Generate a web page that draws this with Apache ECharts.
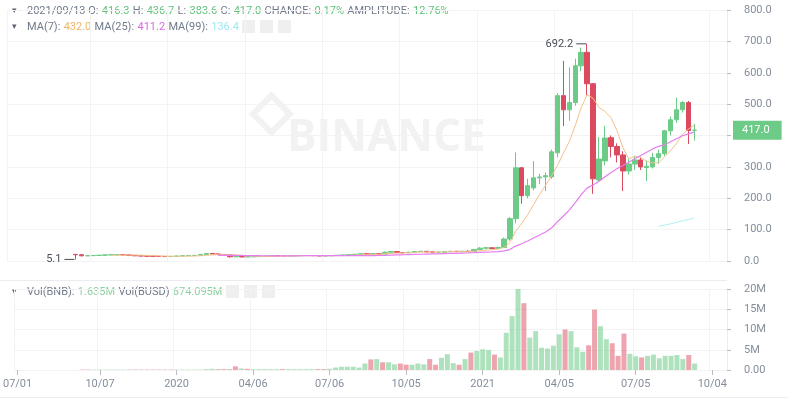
<!DOCTYPE html>
<html>
<head>
<meta charset="utf-8">
<script src="https://cdn.jsdelivr.net/npm/echarts@6/dist/echarts.min.js"></script>
<style>
  html, body { margin: 0; padding: 0; background: #fff; }
  #main { width: 788px; height: 401px; }
</style>
</head>
<body>
<div id="main"></div>
<script>
// weekly candles BNB/BUSD, 2019-09-16 .. 2021-09-13
const opens = [
  21, 20, 16.5, 17, 17.5, 18.5, 19.5, 20, 20, 19.5, 18, 16.5, 16, 15.5, 15, 14.5,
  14, 14.5, 16, 17, 17.5, 18, 20.5, 24, 22.5, 21, 20, 13.5, 14, 13, 13.5, 14, 15, 15.5, 16.5, 16, 16.5, 17, 17, 17.5, 17.5, 17, 16, 16.5, 17.5, 18.5, 19, 20, 21.5, 23, 22, 23.5, 22, 28, 30, 27, 26, 28, 30, 31, 29, 28, 28, 30, 31, 30, 31, 30,
  37,
  41, 42, 40, 43, 70, 135, 297, 208, 233, 265, 268, 268, 345, 527, 482, 505, 622, 665, 565, 258, 319, 393, 365, 338, 287, 309, 322, 298, 300, 330, 342, 415, 450, 482, 505, 416.3
]
const closes = [
  20, 16.5, 17, 17.5, 18.5, 19.5, 20, 20, 19.5, 18, 16.5, 16, 15.5, 15, 14.5, 14,
  14.5, 16, 17, 17.5, 18, 20.5, 24, 22.5, 21, 20, 13.5, 14, 13, 13.5, 14, 15, 15.5, 16.5, 16, 16.5, 17, 17, 17.5, 17.5, 17, 16, 16.5, 17.5, 18.5, 19, 20, 21.5, 23, 22, 23.5, 22, 28, 30, 27, 26, 28, 30, 31, 29, 28, 28, 30, 31, 30, 31, 30, 37,
  41,
  42, 40, 43, 70, 135, 297, 208, 240, 265, 268, 272, 348, 527, 482, 505, 622, 665, 565, 262, 325, 392, 365, 338, 287, 309, 322, 300, 302, 330, 342, 415, 450, 482, 505, 416, 417.0
]
const highs = [
  22, 21, 18, 18, 19, 20, 21, 21, 21, 20, 18.5, 17, 16.5, 16, 15.5, 15,
  15, 16.5, 17.5, 18, 18.5, 21, 25, 24.5, 23, 21.5, 20.5, 15, 14.5, 14, 14.5, 15.5, 16, 17, 17, 17, 17.5, 17.5, 18, 18, 18, 17.5, 17, 18, 19, 19.5, 20.5, 22, 24, 23.5, 24.5, 24, 30, 32, 30.5, 28, 29, 31, 32, 31.5, 30, 29, 31, 32, 31.5, 32, 34, 38,
  44,
  45, 44, 46, 75, 140, 346, 300, 262, 318, 278, 282, 355, 535, 638, 617, 645, 680, 692.2, 567, 395, 431, 400, 375, 350, 325, 335, 330, 320, 345, 355, 418, 460, 521, 510, 510, 436.7
]
const lows = [
  5.1, 15, 15.5, 16, 17, 18, 19, 19, 19, 17.5, 16, 15.5, 15, 14.5, 14, 13.5,
  13.5, 14, 15.5, 16.5, 17, 17.5, 20, 21.5, 20.5, 19.5, 11, 12.5, 12, 12.5, 13, 13.5, 14.5, 15, 15.5, 15.5, 16, 16.5, 16.5, 17, 16.5, 15.5, 15.5, 16, 17, 18, 18.5, 19.5, 21, 21, 21.5, 21, 21.5, 26.5, 25.5, 25, 25.5, 27.5, 29, 27.5, 27, 27, 27.5, 29, 29, 29.5, 29.5, 29.5,
  35,
  37, 38, 38, 41, 65, 120, 183, 200, 225, 245, 223, 262, 330, 430, 447, 495, 605, 527, 214, 252, 305, 330, 314, 223, 275, 290, 290, 255, 295, 310, 335, 400, 440, 473, 373, 383.6
]
// volume in millions BNB
const volumes = [
  0.1, 0.1, 0.1, 0.1, 0.1, 0.1, 0.1, 0.1, 0.1, 0.1, 0.1, 0.1, 0.1, 0.1, 0.1, 0.1,
  0.1, 0.1, 0.1, 0.1, 0.1, 0.2, 0.3, 0.2, 0.2, 0.2, 0.9, 0.4, 0.3, 0.2, 0.2, 0.2, 0.2, 0.2, 0.2, 0.2, 0.2, 0.2, 0.2, 0.2, 0.2, 0.2, 0.3, 0.6, 0.8, 0.8, 0.8, 0.6, 1.6, 2.6, 2.7, 1.9, 1.9, 1.4, 1.6, 1.3, 1.3, 1.6, 1.4, 2.7, 1.3, 3.0, 3.9, 1.7, 1.3, 2.7, 4.3,
  4.7,
  5.1, 4.9, 3.8, 3.1, 9.2, 13.3, 20, 16.5, 8, 9.6, 5.5, 5.3, 6, 8.8, 10, 9.6, 5.6, 4.5, 6.1, 14.9, 10.8, 7.6, 6.6, 3.5, 9, 4, 3.4, 3.1, 3.5, 3.8, 2.9, 3.5, 3.5, 3.7, 2.7, 3.7, 1.6
]
const labelDates = ['2019-07-01', '2019-10-07', '2020-01-06', '2020-04-06', '2020-07-06', '2020-10-05', '2021-01-04', '2021-04-05', '2021-07-05', '2021-10-04']
const lastPrice = 417.0

const UP = '#6ccb86'
const DOWN = '#dc4a60'

// weekly categories from 2019-07-01 to 2021-10-18
const categories = []
for (let t = Date.UTC(2019, 6, 1); t <= Date.UTC(2021, 9, 18); t += 7 * 864e5) {
  categories.push(new Date(t).toISOString().slice(0, 10))
}
const offset = categories.indexOf('2019-09-16')

const candles = categories.map((d, i) => {
  const k = i - offset
  if (k < 0 || k >= closes.length) return '-'
  return [opens[k], closes[k], lows[k], highs[k]]
})
const volBars = categories.map((d, i) => {
  const k = i - offset
  if (k < 0 || k >= volumes.length) return '-'
  return {
    value: volumes[k] * 1e6,
    itemStyle: { color: closes[k] >= opens[k] ? 'rgba(108,203,134,0.55)' : 'rgba(220,74,96,0.5)' }
  }
})
const ma = (n) => categories.map((d, i) => {
  const k = i - offset
  if (k < n - 1 || k >= closes.length) return '-'
  let s = 0
  for (let j = k - n + 1; j <= k; j++) s += closes[j]
  return +(s / n).toFixed(2)
})

const fmtLabel = (v) => {
  if (v === '2020-01-06') return '2020'
  if (v === '2021-01-04') return '2021'
  return v.slice(5, 7) + '/' + v.slice(8, 10)
}
const showLabel = (i, v) => labelDates.indexOf(v) >= 0

const gray = '#707a8a'
const axisColor = '#848e9c'
const splitColor = '#f3f3f3'
const F = 'Roboto, sans-serif'
const legendRich = {
  a: { fill: '#5e6673', fontSize: 9, fontFamily: F },
  g: { fill: gray, fontSize: 11, fontFamily: F },
  v: { fill: '#5fc27a', fontSize: 11, fontFamily: F },
  o: { fill: '#f0b662', fontSize: 11, fontFamily: F },
  p: { fill: '#d86be0', fontSize: 11, fontFamily: F },
  c: { fill: '#9eeaf0', fontSize: 11, fontFamily: F },
  b: { fill: '#8fd0a0', fontSize: 11, fontFamily: F }
}
// small grey icon boxes behind the legends
const iconBox = (x, y) => ({
  type: 'rect', left: x, top: y, shape: { width: 13, height: 13 }, style: { fill: '#efefef' }
})

const chart = echarts.init(document.getElementById('main'))
chart.setOption({
  animation: false,
  backgroundColor: '#fff',
  textStyle: { fontFamily: F },
  grid: [
    { left: 7, right: 61, top: 10, height: 251 },
    { left: 7, right: 61, top: 289, height: 81 }
  ],
  xAxis: [
    {
      type: 'category', gridIndex: 0, data: categories, boundaryGap: true,
      axisLine: { show: false }, axisTick: { show: false }, axisLabel: { show: false },
      splitLine: { show: true, interval: showLabel, lineStyle: { color: splitColor } }
    },
    {
      type: 'category', gridIndex: 1, data: categories, boundaryGap: true,
      axisLine: { show: false },
      axisTick: { show: true, interval: showLabel, alignWithLabel: true, length: 5, lineStyle: { color: '#b7bdc6' } },
      axisLabel: { interval: showLabel, formatter: fmtLabel, color: axisColor, fontSize: 11, margin: 9 },
      splitLine: { show: true, interval: showLabel, lineStyle: { color: splitColor } }
    }
  ],
  yAxis: [
    {
      type: 'value', gridIndex: 0, position: 'right', min: 0, max: 800, interval: 100,
      axisLine: { show: true, lineStyle: { color: '#eaecef' } },
      axisTick: { show: true, length: 4, lineStyle: { color: '#b7bdc6' } },
      axisLabel: { color: axisColor, fontSize: 11, margin: 17, formatter: (v) => v.toFixed(1) },
      splitLine: { lineStyle: { color: splitColor } }
    },
    {
      type: 'value', gridIndex: 1, position: 'right', min: 0, max: 20e6, interval: 5e6,
      axisLine: { show: true, lineStyle: { color: '#eaecef' } },
      axisTick: { show: true, length: 4, lineStyle: { color: '#b7bdc6' } },
      axisLabel: { color: axisColor, fontSize: 11, margin: 17, formatter: (v) => v === 0 ? '0.00' : (v / 1e6) + 'M' },
      splitLine: { lineStyle: { color: splitColor } }
    },
    {
      // last price tag
      type: 'value', gridIndex: 0, position: 'right', min: 0, max: 800,
      axisLine: { show: false }, axisTick: { show: false }, splitLine: { show: false },
      axisLabel: {
        customValues: [lastPrice], formatter: (v) => v.toFixed(1), margin: 6,
        color: '#fff', fontSize: 11, backgroundColor: UP, padding: [4, 12, 4, 9]
      }
    }
  ],
  graphic: [
    {
      type: 'text', left: 287, top: 116, z: 0, silent: true,
      style: { text: 'BINANCE', fill: '#f2f2f2', font: 'bold 44px "Open Sans", sans-serif' }
    },
    {
      type: 'rect', x: 253, y: 114, z: 0, rotation: Math.PI / 4, silent: true,
      shape: { width: 26, height: 26 }, style: { fill: 'none', stroke: '#f2f2f2', lineWidth: 6 }
    },
    {
      type: 'text', left: 12, top: 5,
      style: {
        text: '{a|▾}   {g|2021/09/13 O:} {v|416.3} {g|H:} {v|436.7} {g|L:} {v|383.6} {g|C:} {v|417.0} {g|CHANGE:} {v|0.17%} {g|AMPLITUDE:} {v|12.76%}',
        rich: legendRich
      }
    },
    {
      type: 'text', left: 12, top: 21,
      style: {
        text: '{a|▾}   {g|MA(7):} {o|432.0} {g|MA(25):} {p|411.2} {g|MA(99):} {c|136.4}',
        rich: legendRich
      }
    },
    iconBox(242, 20), iconBox(260, 20), iconBox(278, 20),
    {
      type: 'text', left: 12, top: 286,
      style: {
        text: '{a|▾}   {g|Vol(BNB):} {b|1.635M} {g|Vol(BUSD)} {b|674.095M}',
        rich: legendRich
      }
    },
    iconBox(226, 285), iconBox(244, 285), iconBox(262, 285),
    { type: 'rect', left: 0, top: 280, shape: { width: 727, height: 1 }, style: { fill: '#eaecef' } },
    { type: 'rect', left: 0, top: 397, shape: { width: 788, height: 1 }, style: { fill: '#eaecef' } }
  ],
  series: [
    {
      name: 'BNB', type: 'candlestick', xAxisIndex: 0, yAxisIndex: 0, data: candles, barWidth: 5,
      itemStyle: { color: UP, color0: DOWN, borderColor: UP, borderColor0: DOWN, borderWidth: 1 },
      markPoint: {
        symbol: 'rect', symbolSize: [10, 1], silent: true,
        data: [
          {
            coord: ['2021-05-10', 692.2], symbolOffset: [-6, 0], itemStyle: { color: '#474d57' },
            label: { show: true, position: 'left', formatter: '692.2', color: '#474d57', fontSize: 11, distance: 3 }
          },
          {
            coord: ['2019-09-16', 5.1], symbolOffset: [-6, 0], itemStyle: { color: '#474d57' },
            label: { show: true, position: 'left', formatter: '5.1', color: '#474d57', fontSize: 11, distance: 3 }
          }
        ]
      }
    },
    { name: 'MA7', type: 'line', data: ma(7), symbol: 'none', lineStyle: { color: '#f3c28a', width: 1 }, z: 3 },
    { name: 'MA25', type: 'line', data: ma(25), symbol: 'none', lineStyle: { color: '#e57ef0', width: 1.2 }, z: 3 },
    { name: 'MA99', type: 'line', data: ma(99), symbol: 'none', lineStyle: { color: '#aef0f5', width: 1 }, z: 3 },
    { name: 'Vol', type: 'bar', xAxisIndex: 1, yAxisIndex: 1, data: volBars, barWidth: 5 }
  ]
})
</script>
</body>
</html>
